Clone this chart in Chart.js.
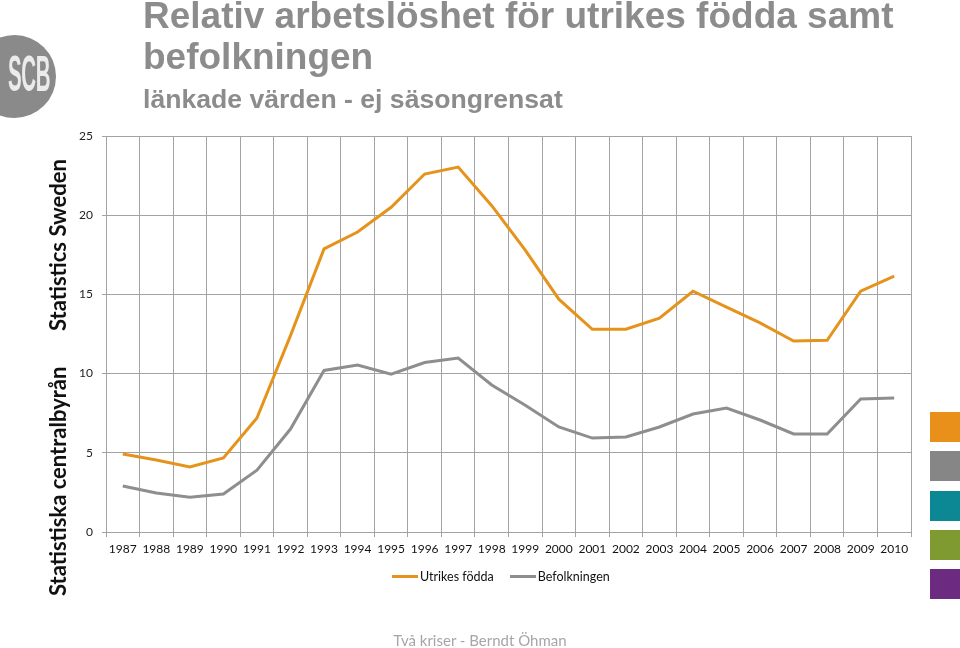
<!DOCTYPE html>
<html>
<head>
<meta charset="utf-8">
<script src="https://cdn.jsdelivr.net/npm/chart.js@4/dist/chart.umd.min.js"></script>
<style>
  html, body { margin:0; padding:0; background:#fff; }
  #wrap { position:relative; width:960px; height:648px; overflow:hidden; background:#fff; }
  #c { position:absolute; left:0; top:0; }
  .title { position:absolute; left:143px; font-family:"Liberation Sans", Arial, sans-serif; font-weight:bold; color:#8c8c8c; white-space:nowrap; }
  #t1 { top:-4px; font-size:37px; line-height:40px; }
  #t2 { top:37px; font-size:37px; line-height:40px; }
  #t3 { top:84px; font-size:26.6px; line-height:30px; }
  #logo { position:absolute; left:-27px; top:35px; width:83px; height:83px; border-radius:50%; background:#8a8a8a; }
  #logotxt { position:absolute; left:8px; top:49px; display:inline-block; font-family:"Liberation Sans Narrow","Liberation Sans",sans-serif; font-weight:bold; font-size:50px; line-height:50px; color:#ebebeb; transform:scale(0.41, 1); transform-origin:0 0; white-space:nowrap; letter-spacing:-1px; }
  .vt { position:absolute; font-family:Lato, "Open Sans", sans-serif; font-weight:bold; font-size:22px; line-height:26px; color:#111; white-space:nowrap; transform:rotate(-90deg); transform-origin:left top; }
  #v1 { left:45px; top:596px; }
  #v2 { left:45px; top:331px; }
  .sq { position:absolute; left:930px; width:30px; height:30px; }
  #legend { position:absolute; top:569px; left:392px; font-family:Lato, "Open Sans", sans-serif; font-size:12.5px; color:#111; white-space:nowrap; }
  #legend span.item { display:inline-block; margin-right:16px; }
  #legend span.ln { display:inline-block; width:26px; height:3px; vertical-align:middle; margin-right:2px; position:relative; top:-1px; }
  #footer { position:absolute; top:631px; width:960px; text-align:center; font-family:Lato, "Open Sans", sans-serif; font-size:15px; color:#a6a6a6; }
</style>
</head>
<body>
<div id="wrap">
  <canvas id="c" width="960" height="648"></canvas>
  <div id="logo"></div>
  <span id="logotxt">SCB</span>
  <div class="title" id="t1">Relativ arbetslöshet för utrikes födda samt</div>
  <div class="title" id="t2">befolkningen</div>
  <div class="title" id="t3">länkade värden - ej säsongrensat</div>
  <div class="vt" id="v1">Statistiska centralbyrån</div>
  <div class="vt" id="v2">Statistics Sweden</div>
  <div class="sq" style="top:412px;background:#E8901A"></div>
  <div class="sq" style="top:451px;background:#868686"></div>
  <div class="sq" style="top:491px;background:#0B8893"></div>
  <div class="sq" style="top:530px;background:#7F9A31"></div>
  <div class="sq" style="top:569px;background:#6C2A80"></div>
  <div id="legend"></div>
  <div id="footer">Två kriser - Berndt Öhman</div>
</div>
<script>
const years = ["1987","1988","1989","1990","1991","1992","1993","1994","1995","1996","1997","1998","1999","2000","2001","2002","2003","2004","2005","2006","2007","2008","2009","2010"];
const utrikesFodda = [4.92, 4.55, 4.1, 4.67, 7.2, 12.4, 17.87, 18.94, 20.5, 22.6, 23.04, 20.6, 17.8, 14.7, 12.8, 12.8, 13.5, 15.2, 14.2, 13.2, 12.06, 12.1, 15.2, 16.16];
const befolkningen = [2.9, 2.46, 2.2, 2.4, 3.9, 6.5, 10.2, 10.54, 9.97, 10.7, 10.98, 9.28, 8.0, 6.63, 5.93, 6.0, 6.63, 7.45, 7.83, 7.07, 6.19, 6.19, 8.4, 8.46];
const yTicks = [0, 5, 10, 15, 20, 25];
const seriesNames = ["Utrikes födda", "Befolkningen"];
const seriesColors = ["#E5931B", "#8E8E8E"];

const gridColor = "#a3a3a3";
const tickFont = { family: "Lato, 'Open Sans', sans-serif", size: 12 };

const chart = new Chart(document.getElementById("c"), {
  type: "line",
  data: {
    labels: years,
    datasets: [
      { label: seriesNames[0], data: utrikesFodda, borderColor: seriesColors[0], backgroundColor: seriesColors[0], borderWidth: 3, pointRadius: 0, tension: 0, fill: false },
      { label: seriesNames[1], data: befolkningen, borderColor: seriesColors[1], backgroundColor: seriesColors[1], borderWidth: 3, pointRadius: 0, tension: 0, fill: false }
    ]
  },
  options: {
    responsive: false,
    animation: false,
    devicePixelRatio: 1,
    layout: { padding: { left: 0, top: 136, right: 49, bottom: 86 } },
    plugins: { legend: { display: false }, tooltip: { enabled: false } },
    scales: {
      x: {
        offset: true,
        grid: { offset: true, color: gridColor, lineWidth: 1, tickLength: 5, drawTicks: true },
        border: { color: gridColor, width: 1 },
        ticks: { color: "#111", font: tickFont, maxRotation: 0, autoSkip: false, padding: 5 },
        afterFit: s => { s.height = 30; }
      },
      y: {
        min: 0, max: 25,
        afterBuildTicks: s => { s.ticks = yTicks.map(v => ({ value: v })); },
        grid: { color: gridColor, lineWidth: 1, tickLength: 4 },
        border: { color: gridColor, width: 1 },
        ticks: { color: "#222", font: tickFont, padding: 9 },
        afterFit: s => { s.width = 106; }
      }
    }
  }
});

const lg = document.getElementById("legend");
chart.data.datasets.forEach(ds => {
  const item = document.createElement("span");
  item.className = "item";
  const ln = document.createElement("span");
  ln.className = "ln";
  ln.style.background = ds.borderColor;
  item.appendChild(ln);
  item.appendChild(document.createTextNode(ds.label));
  lg.appendChild(item);
});
</script>
</body>
</html>
